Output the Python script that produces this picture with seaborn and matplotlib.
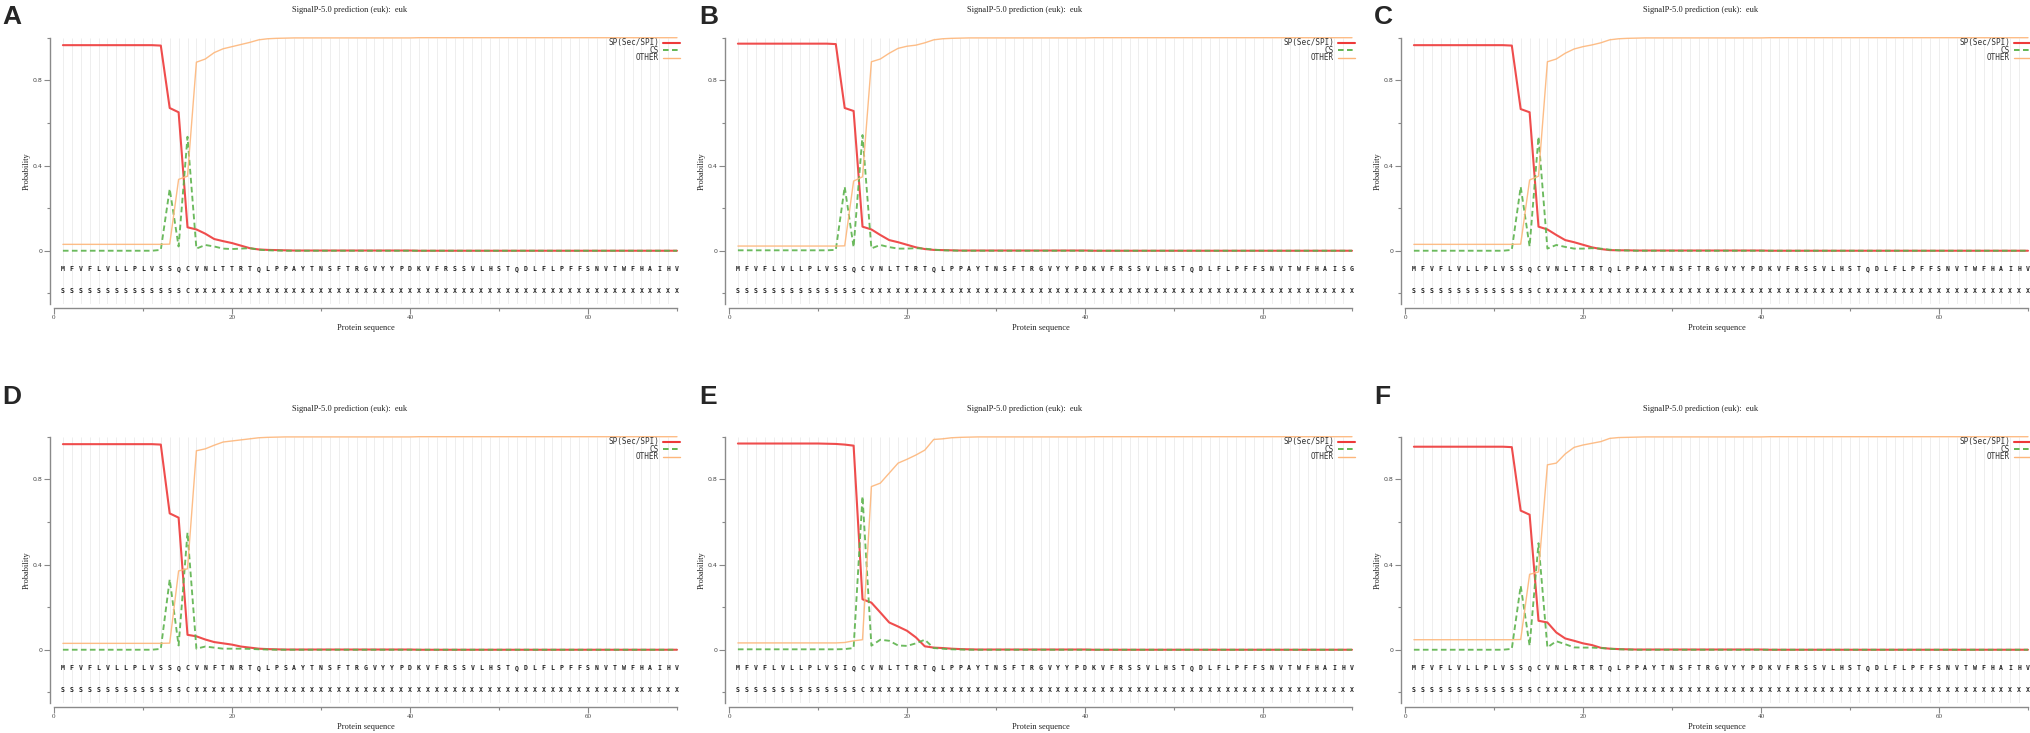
import numpy as np
import pandas as pd
import matplotlib
matplotlib.use("Agg")
import matplotlib.pyplot as plt
import seaborn as sns

# ---------------- data ----------------
PANEL_LABELS = ["A", "B", "C", "D", "E", "F"]
TITLE = "SignalP-5.0 prediction (euk):  euk"
SERIES = ["SP(Sec/SPI)", "CS", "OTHER"]
X_LABEL = "Protein sequence"
Y_LABEL = "Probability"
X_MAJOR_TICKS = [0, 20, 40, 60]
X_MAJOR_LABELS = ["0", "20", "40", "60"]
X_MINOR_TICKS = [10, 30, 50, 70]
Y_MAJOR_TICKS = [0.0, 0.4, 0.8]
Y_MAJOR_LABELS = ["0", "0.4", "0.8"]
Y_MINOR_TICKS = [-0.2, 0.2, 0.6, 1.0]

SEQ_A = "MFVFLVLLPL" "VSSQCVNLTT" "RTQLPPAYTN" "SFTRGVYYPD" "KVFRSSVLHS" "TQDLFLPFFS" "NVTWFHAIHV"
SEQ_B = "MFVFLVLLPL" "VSSQCVNLTT" "RTQLPPAYTN" "SFTRGVYYPD" "KVFRSSVLHS" "TQDLFLPFFS" "NVTWFHAISG"
SEQ_C = "MFVFLVLLPL" "VSSQCVNLTT" "RTQLPPAYTN" "SFTRGVYYPD" "KVFRSSVLHS" "TQDLFLPFFS" "NVTWFHAIHV"
SEQ_D = "MFVFLVLLPL" "VSSQCVNFTN" "RTQLPSAYTN" "SFTRGVYYPD" "KVFRSSVLHS" "TQDLFLPFFS" "NVTWFHAIHV"
SEQ_E = "MFVFLVLLPL" "VSIQCVNLTT" "RTQLPPAYTN" "SFTRGVYYPD" "KVFRSSVLHS" "TQDLFLPFFS" "NVTWFHAIHV"
SEQ_F = "MFVFLVLLPL" "VSSQCVNLRT" "RTQLPPAYTN" "SFTRGVYYPD" "KVFRSSVLHS" "TQDLFLPFFS" "NVTWFHAIHV"
PRED_LABELS = "SSSSSSSSSS" "SSSSCXXXXX" "XXXXXXXXXX" "XXXXXXXXXX" "XXXXXXXXXX" "XXXXXXXXXX" "XXXXXXXXXX"

SP_A = [0.965, 0.965, 0.965, 0.965, 0.965, 0.965, 0.965, 0.965, 0.965, 0.965,
        0.965, 0.963, 0.670, 0.650, 0.110, 0.100, 0.080, 0.055, 0.045, 0.036,
        0.024, 0.012, 0.006, 0.004, 0.003, 0.002, 0.001, 0.001, 0.001, 0.001,
        0.001, 0.001, 0.001, 0.001, 0.001, 0.001, 0.001, 0.001, 0.001, 0.001,
        0.0, 0.0, 0.0, 0.0, 0.0, 0.0, 0.0, 0.0, 0.0, 0.0,
        0.0, 0.0, 0.0, 0.0, 0.0, 0.0, 0.0, 0.0, 0.0, 0.0,
        0.0, 0.0, 0.0, 0.0, 0.0, 0.0, 0.0, 0.0, 0.0, 0.0]
CS_A = [0.0, 0.0, 0.0, 0.0, 0.0, 0.0, 0.0, 0.0, 0.0, 0.0,
        0.0, 0.004, 0.290, 0.020, 0.535, 0.010, 0.027, 0.020, 0.010, 0.008,
        0.010, 0.012, 0.005, 0.002, 0.001, 0.0, 0.0, 0.0, 0.0, 0.0,
        0.0, 0.0, 0.0, 0.0, 0.0, 0.0, 0.0, 0.0, 0.0, 0.0,
        0.0, 0.0, 0.0, 0.0, 0.0, 0.0, 0.0, 0.0, 0.0, 0.0,
        0.0, 0.0, 0.0, 0.0, 0.0, 0.0, 0.0, 0.0, 0.0, 0.0,
        0.0, 0.0, 0.0, 0.0, 0.0, 0.0, 0.0, 0.0, 0.0, 0.0]
OTHER_A = [0.030, 0.030, 0.030, 0.030, 0.030, 0.030, 0.030, 0.030, 0.030, 0.030,
           0.030, 0.030, 0.031, 0.335, 0.350, 0.885, 0.900, 0.930, 0.948, 0.958,
           0.968, 0.978, 0.990, 0.995, 0.997, 0.998, 0.999, 0.999, 0.999, 0.999,
           0.999, 0.999, 0.999, 0.999, 0.999, 0.999, 0.999, 0.999, 0.999, 0.999,
           1.0, 1.0, 1.0, 1.0, 1.0, 1.0, 1.0, 1.0, 1.0, 1.0,
           1.0, 1.0, 1.0, 1.0, 1.0, 1.0, 1.0, 1.0, 1.0, 1.0,
           1.0, 1.0, 1.0, 1.0, 1.0, 1.0, 1.0, 1.0, 1.0, 1.0]

SP_B = [0.972, 0.972, 0.972, 0.972, 0.972, 0.972, 0.972, 0.972, 0.972, 0.972,
        0.972, 0.970, 0.670, 0.656, 0.113, 0.100, 0.074, 0.050, 0.040, 0.028,
        0.016, 0.008, 0.004, 0.003, 0.002, 0.001, 0.001, 0.001, 0.001, 0.001,
        0.001, 0.001, 0.001, 0.001, 0.001, 0.001, 0.001, 0.001, 0.001, 0.001,
        0.0, 0.0, 0.0, 0.0, 0.0, 0.0, 0.0, 0.0, 0.0, 0.0,
        0.0, 0.0, 0.0, 0.0, 0.0, 0.0, 0.0, 0.0, 0.0, 0.0,
        0.0, 0.0, 0.0, 0.0, 0.0, 0.0, 0.0, 0.0, 0.0, 0.0]
CS_B = [0.002, 0.002, 0.002, 0.002, 0.002, 0.002, 0.002, 0.002, 0.002, 0.002,
        0.002, 0.004, 0.300, 0.017, 0.543, 0.011, 0.027, 0.017, 0.010, 0.010,
        0.012, 0.010, 0.005, 0.002, 0.001, 0.0, 0.0, 0.0, 0.0, 0.0,
        0.0, 0.0, 0.0, 0.0, 0.0, 0.0, 0.0, 0.0, 0.0, 0.0,
        0.0, 0.0, 0.0, 0.0, 0.0, 0.0, 0.0, 0.0, 0.0, 0.0,
        0.0, 0.0, 0.0, 0.0, 0.0, 0.0, 0.0, 0.0, 0.0, 0.0,
        0.0, 0.0, 0.0, 0.0, 0.0, 0.0, 0.0, 0.0, 0.0, 0.0]
OTHER_B = [0.022, 0.022, 0.022, 0.022, 0.022, 0.022, 0.022, 0.022, 0.022, 0.022,
           0.022, 0.022, 0.023, 0.327, 0.347, 0.887, 0.900, 0.927, 0.950, 0.960,
           0.965, 0.976, 0.990, 0.995, 0.997, 0.998, 0.999, 0.999, 0.999, 0.999,
           0.999, 0.999, 0.999, 0.999, 0.999, 0.999, 0.999, 0.999, 0.999, 0.999,
           1.0, 1.0, 1.0, 1.0, 1.0, 1.0, 1.0, 1.0, 1.0, 1.0,
           1.0, 1.0, 1.0, 1.0, 1.0, 1.0, 1.0, 1.0, 1.0, 1.0,
           1.0, 1.0, 1.0, 1.0, 1.0, 1.0, 1.0, 1.0, 1.0, 1.0]

SP_C = [0.965, 0.965, 0.965, 0.965, 0.965, 0.965, 0.965, 0.965, 0.965, 0.965,
        0.965, 0.963, 0.665, 0.650, 0.113, 0.100, 0.074, 0.050, 0.040, 0.028,
        0.016, 0.008, 0.003, 0.002, 0.002, 0.001, 0.001, 0.001, 0.001, 0.001,
        0.001, 0.001, 0.001, 0.001, 0.001, 0.001, 0.001, 0.001, 0.001, 0.001,
        0.0, 0.0, 0.0, 0.0, 0.0, 0.0, 0.0, 0.0, 0.0, 0.0,
        0.0, 0.0, 0.0, 0.0, 0.0, 0.0, 0.0, 0.0, 0.0, 0.0,
        0.0, 0.0, 0.0, 0.0, 0.0, 0.0, 0.0, 0.0, 0.0, 0.0]
CS_C = [0.0, 0.0, 0.0, 0.0, 0.0, 0.0, 0.0, 0.0, 0.0, 0.0,
        0.0, 0.004, 0.300, 0.020, 0.535, 0.010, 0.027, 0.018, 0.010, 0.010,
        0.012, 0.010, 0.005, 0.002, 0.001, 0.0, 0.0, 0.0, 0.0, 0.0,
        0.0, 0.0, 0.0, 0.0, 0.0, 0.0, 0.0, 0.0, 0.0, 0.0,
        0.0, 0.0, 0.0, 0.0, 0.0, 0.0, 0.0, 0.0, 0.0, 0.0,
        0.0, 0.0, 0.0, 0.0, 0.0, 0.0, 0.0, 0.0, 0.0, 0.0,
        0.0, 0.0, 0.0, 0.0, 0.0, 0.0, 0.0, 0.0, 0.0, 0.0]
OTHER_C = [0.030, 0.030, 0.030, 0.030, 0.030, 0.030, 0.030, 0.030, 0.030, 0.030,
           0.030, 0.030, 0.031, 0.332, 0.350, 0.887, 0.900, 0.927, 0.947, 0.958,
           0.966, 0.976, 0.990, 0.995, 0.997, 0.998, 0.999, 0.999, 0.999, 0.999,
           0.999, 0.999, 0.999, 0.999, 0.999, 0.999, 0.999, 0.999, 0.999, 0.999,
           1.0, 1.0, 1.0, 1.0, 1.0, 1.0, 1.0, 1.0, 1.0, 1.0,
           1.0, 1.0, 1.0, 1.0, 1.0, 1.0, 1.0, 1.0, 1.0, 1.0,
           1.0, 1.0, 1.0, 1.0, 1.0, 1.0, 1.0, 1.0, 1.0, 1.0]

SP_D = [0.965, 0.965, 0.965, 0.965, 0.965, 0.965, 0.965, 0.965, 0.965, 0.965,
        0.965, 0.963, 0.640, 0.620, 0.070, 0.063, 0.048, 0.036, 0.030, 0.024,
        0.015, 0.010, 0.005, 0.003, 0.002, 0.001, 0.001, 0.001, 0.001, 0.001,
        0.001, 0.001, 0.001, 0.001, 0.001, 0.001, 0.001, 0.001, 0.001, 0.001,
        0.0, 0.0, 0.0, 0.0, 0.0, 0.0, 0.0, 0.0, 0.0, 0.0,
        0.0, 0.0, 0.0, 0.0, 0.0, 0.0, 0.0, 0.0, 0.0, 0.0,
        0.0, 0.0, 0.0, 0.0, 0.0, 0.0, 0.0, 0.0, 0.0, 0.0]
CS_D = [0.0, 0.0, 0.0, 0.0, 0.0, 0.0, 0.0, 0.0, 0.0, 0.0,
        0.0, 0.004, 0.330, 0.020, 0.550, 0.005, 0.015, 0.010, 0.005, 0.005,
        0.005, 0.004, 0.002, 0.001, 0.0, 0.0, 0.0, 0.0, 0.0, 0.0,
        0.0, 0.0, 0.0, 0.0, 0.0, 0.0, 0.0, 0.0, 0.0, 0.0,
        0.0, 0.0, 0.0, 0.0, 0.0, 0.0, 0.0, 0.0, 0.0, 0.0,
        0.0, 0.0, 0.0, 0.0, 0.0, 0.0, 0.0, 0.0, 0.0, 0.0,
        0.0, 0.0, 0.0, 0.0, 0.0, 0.0, 0.0, 0.0, 0.0, 0.0]
OTHER_D = [0.030, 0.030, 0.030, 0.030, 0.030, 0.030, 0.030, 0.030, 0.030, 0.030,
           0.030, 0.030, 0.031, 0.370, 0.380, 0.934, 0.943, 0.960, 0.975, 0.980,
           0.985, 0.990, 0.995, 0.997, 0.998, 0.999, 0.999, 0.999, 0.999, 0.999,
           0.999, 0.999, 0.999, 0.999, 0.999, 0.999, 0.999, 0.999, 0.999, 0.999,
           1.0, 1.0, 1.0, 1.0, 1.0, 1.0, 1.0, 1.0, 1.0, 1.0,
           1.0, 1.0, 1.0, 1.0, 1.0, 1.0, 1.0, 1.0, 1.0, 1.0,
           1.0, 1.0, 1.0, 1.0, 1.0, 1.0, 1.0, 1.0, 1.0, 1.0]

SP_E = [0.968, 0.968, 0.968, 0.968, 0.968, 0.968, 0.968, 0.968, 0.968, 0.968,
        0.967, 0.966, 0.963, 0.958, 0.237, 0.221, 0.175, 0.128, 0.109, 0.089,
        0.058, 0.016, 0.010, 0.008, 0.005, 0.003, 0.002, 0.001, 0.001, 0.001,
        0.001, 0.001, 0.001, 0.001, 0.001, 0.001, 0.001, 0.001, 0.001, 0.001,
        0.0, 0.0, 0.0, 0.0, 0.0, 0.0, 0.0, 0.0, 0.0, 0.0,
        0.0, 0.0, 0.0, 0.0, 0.0, 0.0, 0.0, 0.0, 0.0, 0.0,
        0.0, 0.0, 0.0, 0.0, 0.0, 0.0, 0.0, 0.0, 0.0, 0.0]
CS_E = [0.002, 0.002, 0.002, 0.002, 0.002, 0.002, 0.002, 0.002, 0.002, 0.002,
        0.002, 0.002, 0.003, 0.008, 0.720, 0.019, 0.047, 0.042, 0.020, 0.018,
        0.030, 0.047, 0.008, 0.005, 0.002, 0.001, 0.0, 0.0, 0.0, 0.0,
        0.0, 0.0, 0.0, 0.0, 0.0, 0.0, 0.0, 0.0, 0.0, 0.0,
        0.0, 0.0, 0.0, 0.0, 0.0, 0.0, 0.0, 0.0, 0.0, 0.0,
        0.0, 0.0, 0.0, 0.0, 0.0, 0.0, 0.0, 0.0, 0.0, 0.0,
        0.0, 0.0, 0.0, 0.0, 0.0, 0.0, 0.0, 0.0, 0.0, 0.0]
OTHER_E = [0.032, 0.032, 0.032, 0.032, 0.032, 0.032, 0.032, 0.032, 0.032, 0.032,
           0.032, 0.032, 0.034, 0.042, 0.047, 0.766, 0.782, 0.829, 0.876, 0.894,
           0.914, 0.937, 0.987, 0.990, 0.995, 0.997, 0.998, 0.999, 0.999, 0.999,
           0.999, 0.999, 0.999, 0.999, 0.999, 0.999, 0.999, 0.999, 0.999, 0.999,
           1.0, 1.0, 1.0, 1.0, 1.0, 1.0, 1.0, 1.0, 1.0, 1.0,
           1.0, 1.0, 1.0, 1.0, 1.0, 1.0, 1.0, 1.0, 1.0, 1.0,
           1.0, 1.0, 1.0, 1.0, 1.0, 1.0, 1.0, 1.0, 1.0, 1.0]

SP_F = [0.953, 0.953, 0.953, 0.953, 0.953, 0.953, 0.953, 0.953, 0.953, 0.953,
        0.953, 0.951, 0.653, 0.634, 0.136, 0.128, 0.081, 0.053, 0.042, 0.030,
        0.022, 0.009, 0.005, 0.003, 0.002, 0.001, 0.001, 0.001, 0.001, 0.001,
        0.001, 0.001, 0.001, 0.001, 0.001, 0.001, 0.001, 0.001, 0.001, 0.001,
        0.0, 0.0, 0.0, 0.0, 0.0, 0.0, 0.0, 0.0, 0.0, 0.0,
        0.0, 0.0, 0.0, 0.0, 0.0, 0.0, 0.0, 0.0, 0.0, 0.0,
        0.0, 0.0, 0.0, 0.0, 0.0, 0.0, 0.0, 0.0, 0.0, 0.0]
CS_F = [0.0, 0.0, 0.0, 0.0, 0.0, 0.0, 0.0, 0.0, 0.0, 0.0,
        0.0, 0.004, 0.300, 0.019, 0.500, 0.011, 0.040, 0.026, 0.011, 0.010,
        0.010, 0.008, 0.005, 0.002, 0.001, 0.0, 0.0, 0.0, 0.0, 0.0,
        0.0, 0.0, 0.0, 0.0, 0.0, 0.0, 0.0, 0.0, 0.0, 0.0,
        0.0, 0.0, 0.0, 0.0, 0.0, 0.0, 0.0, 0.0, 0.0, 0.0,
        0.0, 0.0, 0.0, 0.0, 0.0, 0.0, 0.0, 0.0, 0.0, 0.0,
        0.0, 0.0, 0.0, 0.0, 0.0, 0.0, 0.0, 0.0, 0.0, 0.0]
OTHER_F = [0.047, 0.047, 0.047, 0.047, 0.047, 0.047, 0.047, 0.047, 0.047, 0.047,
           0.047, 0.047, 0.048, 0.354, 0.365, 0.868, 0.876, 0.919, 0.950, 0.961,
           0.969, 0.977, 0.992, 0.996, 0.997, 0.998, 0.999, 0.999, 0.999, 0.999,
           0.999, 0.999, 0.999, 0.999, 0.999, 0.999, 0.999, 0.999, 0.999, 0.999,
           1.0, 1.0, 1.0, 1.0, 1.0, 1.0, 1.0, 1.0, 1.0, 1.0,
           1.0, 1.0, 1.0, 1.0, 1.0, 1.0, 1.0, 1.0, 1.0, 1.0,
           1.0, 1.0, 1.0, 1.0, 1.0, 1.0, 1.0, 1.0, 1.0, 1.0]

PANELS = [
    ("A", SEQ_A, SP_A, CS_A, OTHER_A),
    ("B", SEQ_B, SP_B, CS_B, OTHER_B),
    ("C", SEQ_C, SP_C, CS_C, OTHER_C),
    ("D", SEQ_D, SP_D, CS_D, OTHER_D),
    ("E", SEQ_E, SP_E, CS_E, OTHER_E),
    ("F", SEQ_F, SP_F, CS_F, OTHER_F),
]

# ---------------- style ----------------
sns.set_theme(style="white")
plt.rcParams['font.family'] = ['DejaVu Sans']

COLORS = {"SP(Sec/SPI)": "#ee3a3a", "CS": "#5cb34c", "OTHER": "#fdb67a"}
WIDTHS = {"SP(Sec/SPI)": 1.5, "CS": 1.35, "OTHER": 1.0}
DASHES = {"SP(Sec/SPI)": "", "CS": (3, 1.8), "OTHER": ""}

W, H = 2031, 733
fig = plt.figure(figsize=(W / 100, H / 100), dpi=100)
fig.patch.set_facecolor("white")

COL_LEFT = [54, 729, 1405]
ROW_TOP = [37.7, 436.7]
AX_W, AX_H = 623, 266.3
LABEL_X = [2, 699, 1374]
LABEL_TOP = [5, 385]
SERIF = ['Liberation Serif', 'DejaVu Serif']
MONO = ['DejaVu Sans Mono']

for idx, (letter, seq, sp, cs, other) in enumerate(PANELS):
    r, c = divmod(idx, 3)
    L, T = COL_LEFT[c], ROW_TOP[r]
    ax = fig.add_axes([L / W, 1 - (T + AX_H) / H, AX_W / W, AX_H / H])
    ax.set_facecolor("white")
    pos = np.arange(1, len(seq) + 1)

    # vertical grid line at each residue
    ax.vlines(pos, -0.25, 1.0, color="#ebebeb", lw=0.6, zorder=0)

    df = pd.concat([
        pd.DataFrame({"pos": pos, "prob": sp, "series": SERIES[0]}),
        pd.DataFrame({"pos": pos, "prob": cs, "series": SERIES[1]}),
        pd.DataFrame({"pos": pos, "prob": other, "series": SERIES[2]}),
    ], ignore_index=True)
    sns.lineplot(data=df, x="pos", y="prob", hue="series", style="series",
                 size="series", palette=COLORS, dashes=DASHES, sizes=WIDTHS,
                 hue_order=SERIES, style_order=SERIES, size_order=SERIES,
                 legend=False, ax=ax, estimator=None, sort=False)
    for ln in ax.get_lines():
        ln.set_clip_on(False)
        ln.set_alpha(0.9)

    # sequence and prediction letters
    for p, ch in zip(pos, seq):
        ax.text(p, -0.085, ch, ha="center", va="center", fontsize=4.7,
                family=MONO, color="#222222", fontweight="bold")
    for p, ch in zip(pos, PRED_LABELS):
        ax.text(p, -0.19, ch, ha="center", va="center", fontsize=4.7,
                family=MONO, color="#222222", fontweight="bold")

    ax.set_xlim(0, 70)
    ax.set_ylim(-0.25, 1.0)
    ax.set_xticks(X_MAJOR_TICKS)
    ax.set_xticks(X_MINOR_TICKS, minor=True)
    ax.set_yticks(Y_MAJOR_TICKS)
    ax.set_yticks(Y_MINOR_TICKS, minor=True)
    ax.set_xticklabels(X_MAJOR_LABELS)
    ax.set_yticklabels(Y_MAJOR_LABELS)
    ax.tick_params(axis="both", which="both", direction="out", colors="#888888",
                   labelcolor="#444444", bottom=True, left=True, width=0.8)
    ax.tick_params(axis="both", which="major", length=4, pad=1.2)
    ax.tick_params(axis="both", which="minor", length=2)
    ax.tick_params(axis="x", which="major", labelsize=5, labelfontfamily="Liberation Serif")
    ax.tick_params(axis="y", which="major", labelsize=4.5, labelfontfamily="DejaVu Sans")
    ax.grid(False)
    for s in ["top", "right"]:
        ax.spines[s].set_visible(False)
    for s in ["left", "bottom"]:
        ax.spines[s].set_color("#8a8a8a")
        ax.spines[s].set_linewidth(1.0)
        ax.spines[s].set_position(("outward", 3))
    ax.set_xlabel("")
    ax.set_ylabel("")
    ax.text(0.5, -0.09, X_LABEL, transform=ax.transAxes, ha="center", va="center",
            fontsize=6, family=SERIF, color="#222222")
    ax.text((26.5 - 54) / AX_W, 0.5, Y_LABEL, transform=ax.transAxes, rotation=90,
            ha="center", va="center", fontsize=6, family=SERIF, color="#222222")

    # legend (right aligned text, sample line to the right)
    for name, yf in zip(SERIES, [0.981, 0.953, 0.924]):
        ax.text(0.971, yf, name, transform=ax.transAxes, ha="right", va="center",
                fontsize=5.5, family=MONO, color="#333333")
        ax.plot([0.978, 1.005], [yf, yf], transform=ax.transAxes, clip_on=False,
                color=COLORS[name], lw=WIDTHS[name],
                dashes=DASHES[name] if DASHES[name] else (None, None))

    # title and panel label
    fig.text((L + 296) / W, 1 - (T - 27.7) / H, TITLE, ha="center", va="center",
             fontsize=6, family=SERIF, color="#222222")
    fig.text(LABEL_X[c] / W, 1 - LABEL_TOP[r] / H, letter, ha="left", va="top",
             fontsize=19, fontweight="bold", family=['Liberation Sans', 'DejaVu Sans'])

fig.savefig("out.png", dpi=100, facecolor="white")
